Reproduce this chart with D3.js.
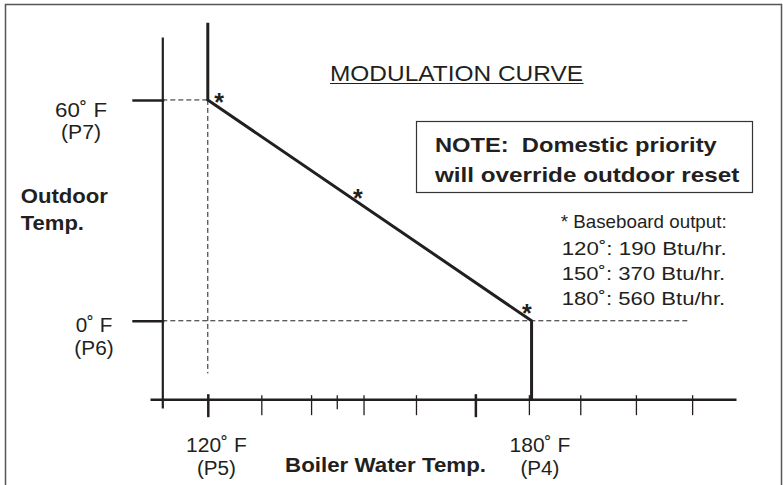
<!DOCTYPE html>
<html><head><meta charset="utf-8">
<script src="https://cdn.jsdelivr.net/npm/d3@7"></script>
<style>
html,body{margin:0;padding:0;background:#fff;}
svg{display:block;font-family:"Liberation Sans",Arial,Helvetica,sans-serif;}
text{white-space:pre;fill:#231f20;}
</style></head><body>
<svg id="c" width="783" height="485"></svg>
<script>
// ---------- data ----------
const boilerTicks = [120, 130, 139.3, 144.1, 149.1, 158.9, 170, 180, 189.6, 200, 210.5];
const majorBoilerTicks = [120, 170];
const shortBoilerTicks = [144.1];
const outdoorTicks = [0, 60];
const outdoorTickLabels = ["0˚ F", "60˚ F"];
const outdoorTickSub = ["(P6)", "(P7)"];
const boilerLabelValues = [120, 180];
const boilerTickLabels = ["120˚ F", "180˚ F"];
const boilerTickSub = ["(P5)", "(P4)"];
const curveBoiler = [120, 120, 180.5, 180.5];
const curveOutdoor = [81, 60, 0, -21.3];
const starBoiler = [120, 150, 180];
const starOutdoor = [60, 30, 0];
const titleText = "MODULATION CURVE";
const noteLines = ["NOTE:  Domestic priority", "will override outdoor reset"];
const baseboardLines = ["* Baseboard output:", "120˚: 190 Btu/hr.", "150˚: 370 Btu/hr.", "180˚: 560 Btu/hr."];
const yTitleLines = ["Outdoor", "Temp."];
const xTitle = "Boiler Water Temp.";
// domain extents
const boilerExtent = [109.2, 218.7];
const outdoorExtent = [-23.7, 77.1];
const xAxisAtOutdoor = -21.3;
const yAxisAtBoiler = 111.5;
const dashV = {boiler: 120, from: 60, to: -14.3};
const dashH = [{outdoor: 60, to: 120}, {outdoor: 0, to: 209.7}];

// ---------- layout ----------
const ink = "#231f20";
const svg = d3.select("#c");
const x = d3.scaleLinear().domain(boilerExtent).range([150, 736]);
const y = d3.scaleLinear().domain(outdoorExtent).range([408, 37]);

// outer frame
svg.append("rect").attr("x", 5.5).attr("y", 4.5).attr("width", 776).attr("height", 520)
  .attr("fill", "none").attr("stroke", "#555").attr("stroke-width", 1.5);

function txt(s, xp, yb, size, bold, len, anchor) {
  const t = svg.append("text").attr("x", xp).attr("y", yb).attr("font-size", size)
    .attr("font-weight", bold ? "bold" : "normal").attr("text-anchor", anchor || "start").text(s);
  if (len) t.attr("textLength", len).attr("lengthAdjust", "spacingAndGlyphs");
  return t;
}

// dashed guide lines
svg.append("line").attr("x1", x(dashV.boiler)).attr("x2", x(dashV.boiler))
  .attr("y1", y(dashV.from)).attr("y2", y(dashV.to))
  .attr("stroke", ink).attr("stroke-width", 1).attr("stroke-dasharray", "5,3");
dashH.forEach(d => {
  svg.append("line").attr("x1", x(yAxisAtBoiler)).attr("x2", x(d.to))
    .attr("y1", y(d.outdoor)).attr("y2", y(d.outdoor))
    .attr("stroke", ink).attr("stroke-width", 1).attr("stroke-dasharray", "5,3");
});

// x axis
const gx = svg.append("g").attr("transform", `translate(0,${y(xAxisAtOutdoor)})`)
  .call(d3.axisBottom(x).tickValues(boilerTicks).tickSizeOuter(0).tickFormat(""));
gx.select(".domain").attr("stroke", ink).attr("stroke-width", 2.5);
gx.selectAll(".tick line").attr("stroke", ink)
  .attr("y1", d => majorBoilerTicks.includes(d) ? -5 : -4)
  .attr("y2", d => majorBoilerTicks.includes(d) ? 18 : (shortBoilerTicks.includes(d) ? 10 : 16))
  .attr("stroke-width", d => majorBoilerTicks.includes(d) ? 2.5 : 1.3);

// y axis
const gy = svg.append("g").attr("transform", `translate(${x(yAxisAtBoiler)},0)`)
  .call(d3.axisLeft(y).tickValues(outdoorTicks).tickSize(30).tickSizeOuter(0).tickFormat(""));
gy.select(".domain").attr("stroke", ink).attr("stroke-width", 2.2);
gy.selectAll(".tick line").attr("stroke", ink).attr("stroke-width", 2.5).attr("x1", 2);

// modulation curve
const line = d3.line().x(d => x(d[0])).y(d => y(d[1]));
svg.append("path").datum(d3.zip(curveBoiler, curveOutdoor)).attr("d", line)
  .attr("fill", "none").attr("stroke", ink).attr("stroke-width", 3).attr("stroke-linejoin", "miter");

// asterisks
const starOffsets = [[11.3, -3], [-10.5, -17.4], [-2, -13]];
starBoiler.forEach((b, i) => {
  txt("*", x(b) + starOffsets[i][0], y(starOutdoor[i]) + starOffsets[i][1] + 14, 25, true, null, "middle");
});

// y tick labels
const yLabelLayout = [{cx: 94, dy1: 11, dy2: 34.3, w1: 36.7, w2: 39.3}, {cx: 81, dy1: 16.7, dy2: 39.5, w1: 52, w2: 40}];
outdoorTicks.forEach((v, i) => {
  const L = yLabelLayout[i];
  txt(outdoorTickLabels[i], L.cx, y(v) + L.dy1, 20, false, L.w1, "middle");
  txt(outdoorTickSub[i], L.cx, y(v) + L.dy2, 20, false, L.w2, "middle");
});

// x tick labels
const xLabelLayout = [{dx: 8.6}, {dx: 11}];
boilerLabelValues.forEach((v, i) => {
  txt(boilerTickLabels[i], x(v) + xLabelLayout[i].dx, 451.7, 20, false, 60.7, "middle");
  txt(boilerTickSub[i], x(v) + xLabelLayout[i].dx, 475, 20, false, 39, "middle");
});

// axis titles
txt(yTitleLines[0], 20.7, 203, 20, true, 87.3);
txt(yTitleLines[1], 20.7, 230, 20, true, 63.3);
txt(xTitle, 285, 471.7, 20, true, 201);

// title with underline
txt(titleText, 330, 81, 22, false, 253);
svg.append("line").attr("x1", 330).attr("x2", 583.5).attr("y1", 83.5).attr("y2", 83.5)
  .attr("stroke", ink).attr("stroke-width", 1.2);

// note box
svg.append("rect").attr("x", 416.5).attr("y", 121.5).attr("width", 336).attr("height", 71)
  .attr("fill", "none").attr("stroke", "#333").attr("stroke-width", 1.2);
txt(noteLines[0], 435, 151.7, 21, true, 281.7);
txt(noteLines[1], 435, 181.7, 21, true, 304.3);

// baseboard notes
const bbY = [228.3, 255, 280, 305];
const bbX = [560.7, 561.7, 561.7, 561.7];
const bbW = [166, 165, 163.5, 163.5];
baseboardLines.forEach((s, i) => txt(s, bbX[i], bbY[i], 19, false, bbW[i]));
</script>
</body></html>
